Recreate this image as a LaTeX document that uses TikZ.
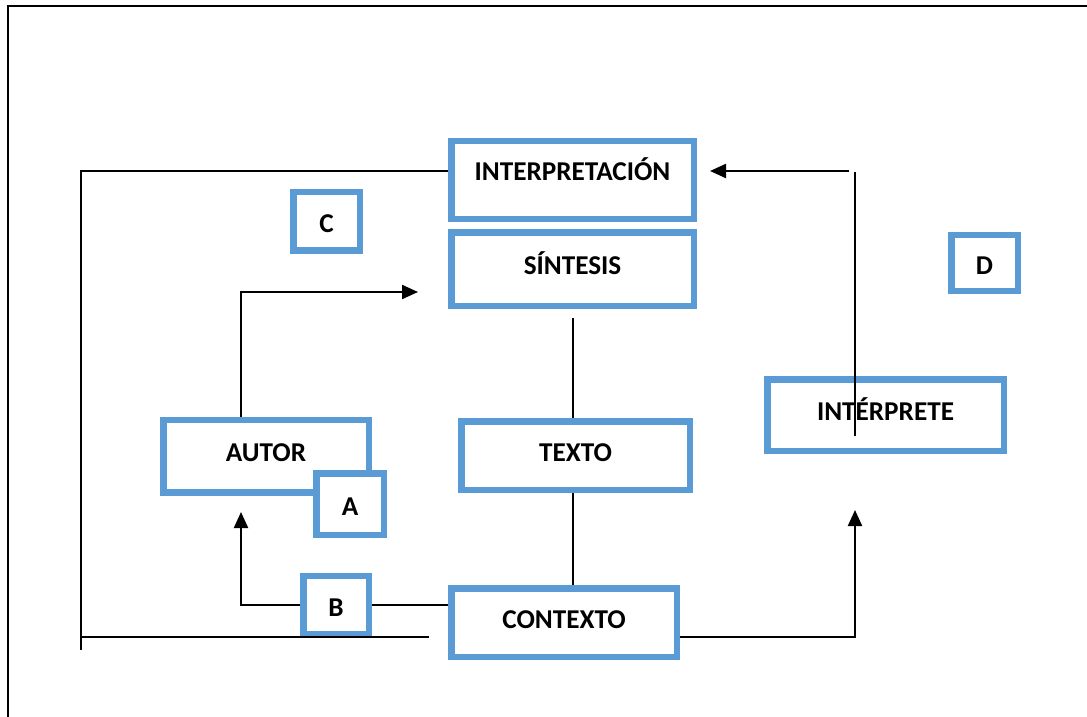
\documentclass[tikz,border=0pt]{standalone}
\usepackage{fontspec}
\setmainfont{Carlito}
\usetikzlibrary{arrows.meta}
\definecolor{blu}{HTML}{5B9BD5}
\tikzset{
  box/.style={draw=blu, line width=3.25pt, fill=white, inner sep=0pt,
    font=\bfseries\fontsize{13.6}{15}\selectfont, text=black,
    text height=8.5pt, text depth=3pt},
  letterbox/.style={box, text height=11pt, text depth=0pt},
  conn/.style={draw=black, line width=1.1pt},
  arr/.style={conn, -{Triangle[length=8pt,width=7pt]}}
}
\begin{document}
\begin{tikzpicture}[x=0.5pt,y=-0.5pt]
\useasboundingbox (0,0) rectangle (1087,717);
% frame
\draw[line width=1.1pt] (8,717) -- (8,6) -- (1087,6);
% boxes
\node[box, minimum width=121.25pt, minimum height=38.75pt, text depth=8pt] (interp) at (572.5,180) {INTERPRETACIÓN};
\node[box, minimum width=121.25pt, minimum height=36.75pt] (sintesis) at (572.5,269) {SÍNTESIS};
\node[letterbox, minimum width=33.25pt, minimum height=29.25pt] (c) at (326.5,221) {C};
\node[letterbox, minimum width=33.25pt, minimum height=28pt] (d) at (984.5,263) {D};
\node[box, minimum width=102.75pt, minimum height=36.25pt] (autor) at (266,456) {AUTOR};
\node[letterbox, minimum width=33.75pt, minimum height=30.75pt] (a) at (350,504) {A};
\node[box, minimum width=114.25pt, minimum height=34.25pt] (texto) at (575.5,455.5) {TEXTO};
\node[box, minimum width=112.75pt, minimum height=34.25pt] (contexto) at (564,622.5) {CONTEXTO};
\node[box, minimum width=118.25pt, minimum height=35.75pt] (interprete) at (885.5,415) {INTÉRPRETE};
\node[letterbox, minimum width=32.75pt, minimum height=29.25pt] (b) at (336,605) {B};
% coordinates for free ends and bends
\coordinate (L1) at (81,171);
\coordinate (L2) at (81,650);
\coordinate (L3) at (429,637);
\coordinate (s0) at (241,292);
\coordinate (s1) at (418,292);
\coordinate (t0) at (573,318);
\coordinate (a1) at (241,512);
\coordinate (c0) at (855,637);
\coordinate (c1) at (855,510);
\coordinate (i0) at (855,436);
\coordinate (i1) at (855,172);
\coordinate (i2) at (849,171);
\coordinate (i3) at (710,171);
% connectors
\draw[conn] (interp.west |- L1) -- (L1) -- (L2);
\draw[conn] (L1 |- L3) -- (L3);
\draw[arr] (autor.north -| s0) -- (s0) -- (s1);
\draw[conn] (t0) -- (t0 |- texto.north);
\draw[conn] (texto.south -| t0) -- (contexto.north -| t0);
\draw[conn] (b.east) -- (b.east -| contexto.west);
\draw[arr] (b.west) -- (b.west -| a1) -- (a1);
\draw[arr] (contexto.east |- c0) -- (c0) -- (c1);
\draw[conn] (i0) -- (i1);
\draw[arr] (i2) -- (i3);
\end{tikzpicture}
\end{document}
